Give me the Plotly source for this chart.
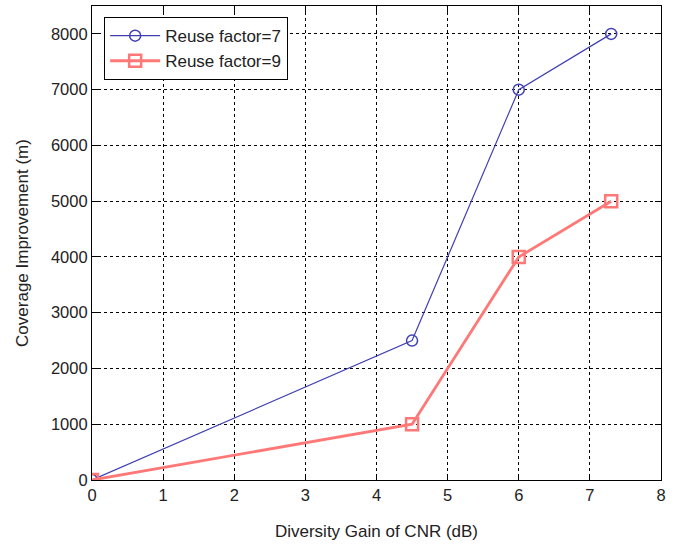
import plotly.graph_objects as go

x_vals = [0, 4.5, 6, 7.3]
reuse7 = [0, 2500, 7000, 8000]
reuse9 = [0, 1000, 4000, 5000]
x_ticks = [0, 1, 2, 3, 4, 5, 6, 7, 8]
y_ticks = [0, 1000, 2000, 3000, 4000, 5000, 6000, 7000, 8000]

FONT = "Liberation Sans, Arial"
TXT = "#222"

fig = go.Figure()
fig.add_trace(go.Scatter(
    x=x_vals, y=reuse7, mode="lines+markers", name="Reuse factor=7",
    line=dict(color="#4040b4", width=1.2),
    marker=dict(symbol="circle-open", size=11, color="#4040b4", line=dict(width=1.5)),
))
fig.add_trace(go.Scatter(
    x=x_vals, y=reuse9, mode="lines+markers", name="Reuse factor=9",
    line=dict(color="#ff7878", width=2.8),
    marker=dict(symbol="square-open", size=12, color="#ff7878", line=dict(width=2.5)),
))

axis_common = dict(
    showline=True, linecolor="black", linewidth=1.2, mirror="ticks",
    ticks="inside", ticklen=6, tickcolor="black",
    showgrid=True, gridcolor="black", gridwidth=1, griddash="3px,3px",
    zeroline=False,
    tickfont=dict(family=FONT, size=16.5, color=TXT),
)

fig.update_xaxes(range=[0, 8], tickvals=x_ticks,
                 title=dict(text="Diversity Gain of CNR (dB)",
                            font=dict(family=FONT, size=17, color=TXT),
                            standoff=22),
                 **axis_common)
fig.update_yaxes(range=[0, 8500], tickvals=y_ticks,
                 title=dict(text="Coverage Improvement (m)",
                            font=dict(family=FONT, size=17, color=TXT),
                            standoff=17),
                 **axis_common)

fig.update_layout(
    width=681, height=544,
    margin=dict(l=92, r=20, t=6, b=64, autoexpand=False),
    plot_bgcolor="white", paper_bgcolor="white",
    showlegend=True,
    legend=dict(x=0.021, y=0.977, xanchor="left", yanchor="top",
                bgcolor="white", bordercolor="black", borderwidth=1.2,
                font=dict(family=FONT, size=17, color=TXT),
                itemwidth=50, tracegroupgap=0),
)

fig.write_html("out.html", config={"displayModeBar": False},
               post_script="document.body.style.margin='0';")
